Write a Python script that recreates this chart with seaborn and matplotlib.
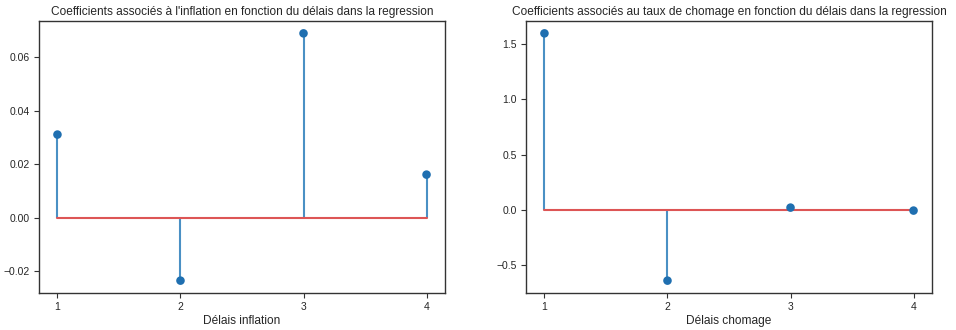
import numpy as np
import pandas as pd
import matplotlib
matplotlib.use("Agg")
import matplotlib.pyplot as plt
import seaborn as sns

delais = [1, 2, 3, 4]
coef_inflation = [0.0311, -0.0236, 0.0690, 0.0161]
coef_chomage = [1.60, -0.645, 0.018, -0.009]

titles = ["Coefficients associés à l'inflation en fonction du délais dans la regression",
          "Coefficients associés au taux de chomage en fonction du délais dans la regression"]
xlabels = ["Délais inflation", "Délais chomage"]

sns.set_style("ticks")
plt.rcParams['font.family'] = ['Liberation Sans', 'DejaVu Sans']

W, H = 956, 330
fig = plt.figure(figsize=(W / 100, H / 100), dpi=100)
boxes = [(39, 21, 445, 293), (526, 21, 932, 293)]
series = [coef_inflation, coef_chomage]

for (x0, y0, x1, y1), vals, title, xl in zip(boxes, series, titles, xlabels):
    ax = fig.add_axes([x0 / W, 1 - y1 / H, (x1 - x0) / W, (y1 - y0) / H])
    df = pd.DataFrame({"delai": delais, "coef": vals})
    markerline, stemlines, baseline = ax.stem(df["delai"], df["coef"], linefmt="C0-",
                                              markerfmt=" ", basefmt="C3-")
    stemlines.set_color("#4a90c4")
    stemlines.set_linewidth(1.5)
    baseline.set_color("#dd5555")
    baseline.set_linewidth(1.5)
    sns.scatterplot(data=df, x="delai", y="coef", ax=ax, color="#1f6fb0", s=38,
                    edgecolor="none", zorder=3)
    ax.set_xticks(delais)
    ax.set_title(title, fontsize=8.6, pad=4)
    ax.set_xlabel(xl, fontsize=8.6, labelpad=2)
    ax.set_ylabel("")
    ax.tick_params(labelsize=7.5, length=3.5, color="#333333", pad=3)
    for s in ax.spines.values():
        s.set_color("#333333")
        s.set_linewidth(1.0)

fig.savefig("out.png", dpi=100)
